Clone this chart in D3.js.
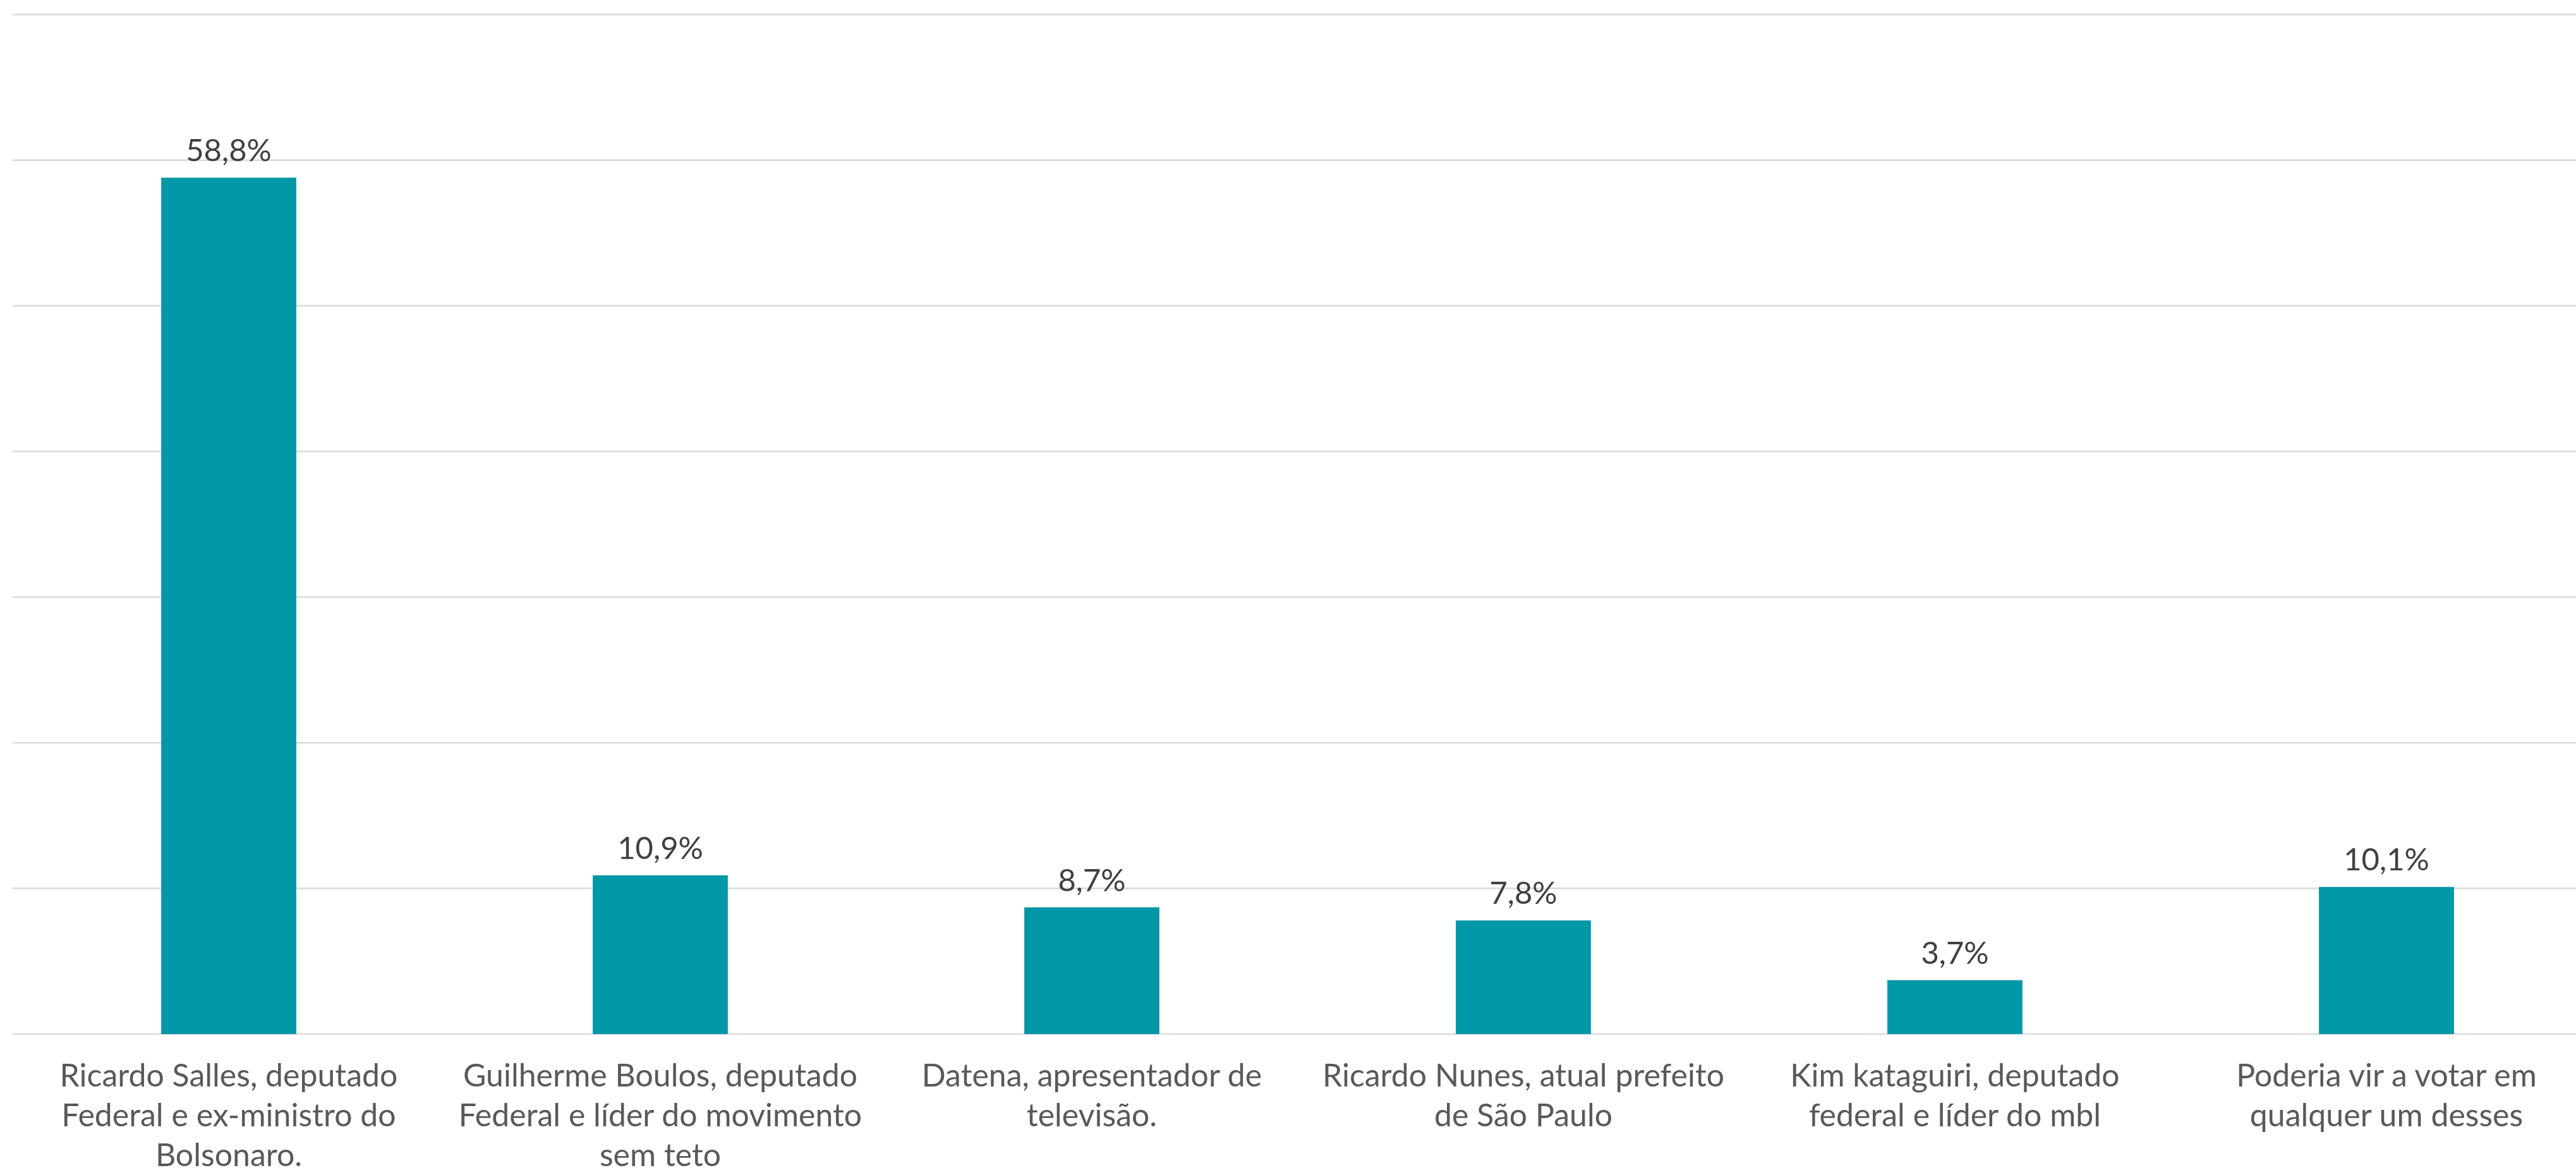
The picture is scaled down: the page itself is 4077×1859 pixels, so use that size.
<!DOCTYPE html>
<html>
<head>
<meta charset="utf-8">
<script src="https://cdn.jsdelivr.net/npm/d3@7"></script>
<style>
    body { margin: 0; background: #fff; }
    text { font-family: Lato, "Open Sans", sans-serif; }
</style>
</head>
<body>
<div id="chart"></div>
<script>
// categories (line breaks as in the original)
var categories = [
    "Ricardo Salles, deputado\nFederal e ex-ministro do\nBolsonaro.",
    "Guilherme Boulos, deputado\nFederal e líder do movimento\nsem teto",
    "Datena, apresentador de\ntelevisão.",
    "Ricardo Nunes, atual prefeito\nde São Paulo",
    "Kim kataguiri, deputado\nfederal e líder do mbl",
    "Poderia vir a votar em\nqualquer um desses"
];
var values = [58.8, 10.9, 8.7, 7.8, 3.7, 10.1];
var yTicks = [0, 10, 20, 30, 40, 50, 60, 70];

var width = 4077, height = 1859;
var barColor = "#0097a7";

var svg = d3.select("#chart")
    .append("svg")
    .attr("width", width)
    .attr("height", height);

// x scale - plot area runs past the right edge (cropped like the original)
var x = d3.scaleBand()
    .domain(d3.range(categories.length))
    .range([20.5, 4118.5])
    .paddingInner(0.687)
    .paddingOuter(0.3435);

var y = d3.scaleLinear()
    .domain([0, 70])
    .range([1636, 23]);

// gridlines
svg.append("g")
    .attr("class", "grid")
    .selectAll("line")
    .data(yTicks)
    .enter()
    .append("line")
    .attr("x1", 20)
    .attr("x2", width)
    .attr("y1", function(d) { return y(d); })
    .attr("y2", function(d) { return y(d); })
    .style("stroke", "#d9d9d9")
    .style("stroke-width", 2.5);

// bars
svg.append("g")
    .selectAll("rect")
    .data(values)
    .enter()
    .append("rect")
    .attr("x", function(d, i) { return x(i); })
    .attr("width", x.bandwidth())
    .attr("y", function(d) { return y(d); })
    .attr("height", function(d) { return y(0) - y(d); })
    .style("fill", barColor);

// value labels
svg.append("g")
    .selectAll("text")
    .data(values)
    .enter()
    .append("text")
    .attr("x", function(d, i) { return x(i) + x.bandwidth() / 2; })
    .attr("y", function(d) { return y(d) - 26; })
    .style("text-anchor", "middle")
    .style("font-size", "49px")
    .style("fill", "#404040")
    .text(function(d) { return d.toFixed(1).replace(".", ",") + "%"; });

// category labels
var catLabels = svg.append("g")
    .selectAll("text")
    .data(categories)
    .enter()
    .append("text")
    .attr("x", function(d, i) { return x(i) + x.bandwidth() / 2; })
    .attr("y", 1719)
    .style("text-anchor", "middle")
    .style("font-size", "50px")
    .style("fill", "#595959");

catLabels.each(function(d) {
    var el = d3.select(this);
    var lines = d.split("\n");
    lines.forEach(function(line, k) {
        el.append("tspan")
            .attr("x", el.attr("x"))
            .attr("dy", k == 0 ? 0 : 63)
            .text(line);
    });
});
</script>
</body>
</html>
